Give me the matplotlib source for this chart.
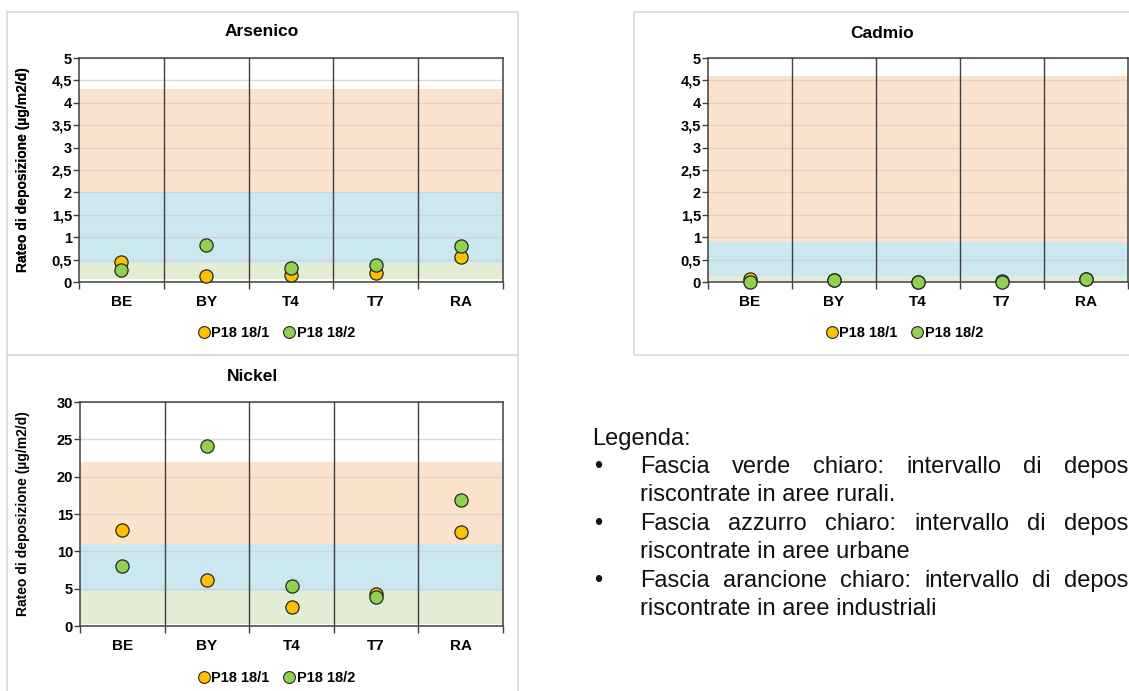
"""
Ratei di deposizione dei metalli (Arsenico, Cadmio, Nickel) per postazione,
con le fasce di riferimento rurale / urbana / industriale.
"""

import matplotlib
matplotlib.use('Agg')
import matplotlib.pyplot as plt
from matplotlib.patches import Rectangle
from matplotlib.lines import Line2D

plt.rcParams['font.family'] = ['Liberation Sans', 'DejaVu Sans']

W, H = 1129, 691

# Dati
categorie = ['BE', 'BY', 'T4', 'T7', 'RA']
serie = ['P18 18/1', 'P18 18/2']

arsenico_1 = [0.45, 0.13, 0.15, 0.20, 0.55]
arsenico_2 = [0.26, 0.82, 0.31, 0.37, 0.80]
cadmio_1 = [0.06, 0.04, 0.01, 0.03, 0.07]
cadmio_2 = [0.01, 0.05, 0.01, 0.01, 0.06]
nickel_1 = [12.9, 6.1, 2.5, 4.25, 12.65]
nickel_2 = [8.05, 24.1, 5.3, 3.85, 16.9]

# limiti delle fasce: inizio verde, verde/azzurro, azzurro/arancione, fine arancione
fasce_arsenico = [0.07, 0.43, 2.0, 4.3]
fasce_cadmio = [0.03, 0.13, 0.9, 4.6]
fasce_nickel = [0.25, 4.7, 11.0, 22.0]

yticks_5 = [0, 0.5, 1, 1.5, 2, 2.5, 3, 3.5, 4, 4.5, 5]
yticks_30 = [0, 5, 10, 15, 20, 25, 30]

ylabel = 'Rateo di deposizione (µg/m2/d)'

COL_SERIE = ['#ffc000', '#92d050']
COL_FASCE = ['#e3ecd4', '#cbe7ef', '#fbe2cd']
SCURO = '#404040'


def fx(px):
    return px / W


def fy(py):
    return 1 - py / H


def cornice(fig, l, t, r, b):
    fig.add_artist(Rectangle((fx(l), fy(b)), (r - l) / W, (b - t) / H,
                             transform=fig.transFigure, fill=False,
                             ec='#d9d9d9', lw=1.2, zorder=0))


def pannello(fig, box, titolo, titolo_xy, legenda_xy, v1, v2, fasce, yticks):
    l, t, r, b = box
    ax = fig.add_axes([fx(l), fy(b), (r - l) / W, (b - t) / H])

    x = list(range(len(categorie)))

    # fasce di riferimento
    for (y0, y1), c in zip(zip(fasce[:-1], fasce[1:]), COL_FASCE):
        ax.axhspan(y0, y1, color=c, lw=0, zorder=0.1)

    ax.set_axisbelow(True)
    ax.yaxis.grid(True, color='#d0d0d0', lw=1, alpha=0.8)

    for xs in [i + 0.5 for i in x[:-1]]:
        ax.axvline(xs, color=SCURO, lw=1, zorder=2)

    for vals, c in zip([v1, v2], COL_SERIE):
        ax.plot(x, vals, 'o', ls='', ms=9.5, mfc=c, mec='#262626', mew=0.9,
                zorder=3, clip_on=False)

    ax.set_xlim(-0.5, len(categorie) - 0.5)
    ax.set_ylim(yticks[0], yticks[-1])
    ax.set_xticks(x)
    ax.set_xticklabels(categorie, fontsize=11, fontweight='bold')
    ax.set_xticks([i - 0.5 for i in range(len(categorie) + 1)], minor=True)
    ax.tick_params(axis='x', which='major', length=0, pad=9)
    ax.tick_params(axis='x', which='minor', length=5, color=SCURO, width=1)

    ax.set_yticks(yticks)
    ax.set_yticklabels([f'{v:g}'.replace('.', ',') for v in yticks],
                       fontsize=10.5, fontweight='bold')
    ax.tick_params(axis='y', length=4, color=SCURO, width=1, pad=1)

    for s in ax.spines.values():
        s.set_color(SCURO)
        s.set_linewidth(1.1)

    ax.set_ylabel(ylabel, fontsize=10, fontweight='bold', va='center')
    ax.yaxis.set_label_coords((23 - l) / (r - l), 0.5)

    fig.text(fx(titolo_xy[0]), fy(titolo_xy[1]), titolo, ha='center',
             va='center', fontsize=12.5, fontweight='bold')

    handles = [Line2D([], [], marker='o', ls='', ms=8.5, mfc=c, mec='#262626',
                      mew=0.8) for c in COL_SERIE]
    ax.legend(handles, serie, loc='center', ncol=2, frameon=False,
              bbox_to_anchor=(fx(legenda_xy[0]), fy(legenda_xy[1])),
              bbox_transform=fig.transFigure, handlelength=0.7,
              handletextpad=0.15, columnspacing=1.0,
              prop=dict(weight='bold', size=10.5))
    return ax


def testo_giustificato(fig, parole, x_inizio, x_ultima, y, **kw):
    """Distribuisce le parole tra x_inizio e x_ultima (inizio ultima parola)."""
    renderer = fig.canvas.get_renderer()
    testi = [fig.text(0, fy(y), p, va='baseline', **kw) for p in parole]
    larghezze = [tx.get_window_extent(renderer).width for tx in testi]
    spazio = (x_ultima - x_inizio - sum(larghezze[:-1])) / (len(parole) - 1)
    xc = x_inizio
    for tx, w in zip(testi, larghezze):
        tx.set_x(fx(xc))
        xc += w + spazio


fig = plt.figure(figsize=(W / 100, H / 100), dpi=100)

cornice(fig, 7, 12, 518, 355)
cornice(fig, 634, 12, 1140, 355)
cornice(fig, 7, 355, 518, 700)

pannello(fig, (79, 58, 503, 282), 'Arsenico', (262, 32), (277, 333),
         arsenico_1, arsenico_2, fasce_arsenico, yticks_5)
pannello(fig, (708, 58, 1128, 282), 'Cadmio', (882, 33), (905, 333),
         cadmio_1, cadmio_2, fasce_cadmio, yticks_5)
pannello(fig, (80, 402, 503, 626), 'Nickel', (252, 377), (277, 678),
         nickel_1, nickel_2, fasce_nickel, yticks_30)

# Legenda testuale (il testo originale prosegue oltre il bordo destro)
st = dict(fontsize=17, color='#111111')
fig.text(fx(592), fy(445), 'Legenda:', va='baseline', **st)
righe = [
    (['Fascia', 'verde', 'chiaro:', 'intervallo', 'di', 'depos'],
     'riscontrate in aree rurali.'),
    (['Fascia', 'azzurro', 'chiaro:', 'intervallo', 'di', 'depos'],
     'riscontrate in aree urbane'),
    (['Fascia', 'arancione', 'chiaro:', 'intervallo', 'di', 'depos'],
     'riscontrate in aree industriali'),
]
y = 473
for parole, seconda in righe:
    fig.text(fx(594), fy(y), '•', va='baseline', **st)
    testo_giustificato(fig, parole, 640, 1064, y, **st)
    fig.text(fx(640), fy(y + 28), seconda, va='baseline', **st)
    y += 57

fig.savefig('out.png', dpi=100)
